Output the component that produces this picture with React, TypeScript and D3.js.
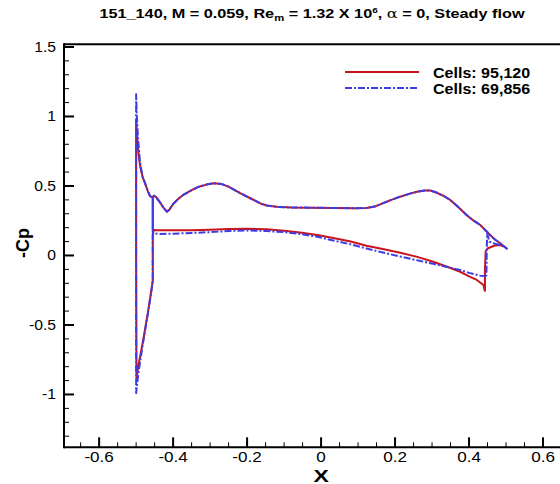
import React from "react";
import * as d3 from "d3";

// ---------- data ----------
const xTicksMajor = [-0.6, -0.4, -0.2, 0, 0.2, 0.4, 0.6];
const xTickLabels = ["-0.6", "-0.4", "-0.2", "0", "0.2", "0.4", "0.6"];
const yTicksMajor = [-1, -0.5, 0, 0.5, 1, 1.5];
const yTickLabels = ["-1", "-0.5", "0", "0.5", "1", "1.5"];
const seriesNames = ["Cells: 95,120", "Cells: 69,856"];

// upper surface (common to both grids), from the slat shoulder to the trailing edge tip
const upperSurface: [number, number][] = [
  [-0.452, 0.43], [-0.446, 0.42], [-0.435, 0.38], [-0.425, 0.34], [-0.417, 0.315], [-0.41, 0.33],
  [-0.4, 0.37], [-0.385, 0.41], [-0.37, 0.44], [-0.35, 0.47], [-0.33, 0.495], [-0.31, 0.51],
  [-0.29, 0.52], [-0.27, 0.515], [-0.25, 0.495], [-0.22, 0.45], [-0.19, 0.41], [-0.16, 0.37],
  [-0.147, 0.36], [-0.12, 0.35], [-0.08, 0.345], [-0.03, 0.344], [0.03, 0.342], [0.09, 0.34],
  [0.123, 0.342], [0.145, 0.352], [0.168, 0.377], [0.19, 0.4], [0.214, 0.423], [0.24, 0.445],
  [0.259, 0.458], [0.28, 0.468], [0.295, 0.468], [0.31, 0.455], [0.33, 0.43], [0.349, 0.4],
  [0.37, 0.35], [0.394, 0.29], [0.41, 0.255], [0.43, 0.22], [0.445, 0.18], [0.457, 0.147],
  [0.47, 0.115], [0.484, 0.088], [0.495, 0.065], [0.502, 0.05],
];

// red (95,120 cells)
const redLower: [number, number][] = [
  [0.443, -0.26], [0.439, -0.212], [0.421, -0.176], [0.4, -0.15], [0.376, -0.117], [0.35, -0.09],
  [0.303, -0.045], [0.26, -0.01], [0.214, 0.02], [0.17, 0.045], [0.123, 0.07], [0.08, 0.1],
  [0.033, 0.125], [-0.01, 0.148], [-0.057, 0.165], [-0.1, 0.178], [-0.147, 0.188], [-0.2, 0.192],
  [-0.25, 0.19], [-0.3, 0.185], [-0.35, 0.182], [-0.4, 0.181], [-0.44, 0.181], [-0.452, 0.183],
];
const redNose: [number, number][] = [
  [-0.455, 0.15], [-0.455, -0.18], [-0.46, -0.27], [-0.468, -0.41], [-0.481, -0.61],
  [-0.493, -0.78], [-0.499, -0.88], [-0.5, 0.0], [-0.5, 0.97], [-0.497, 0.85], [-0.493, 0.72],
  [-0.489, 0.64], [-0.482, 0.56], [-0.476, 0.52], [-0.468, 0.46], [-0.462, 0.425], [-0.456, 0.42],
];
const redTail: [number, number][] = [
  [0.495, 0.065], [0.484, 0.075], [0.47, 0.072], [0.461, 0.063], [0.45, 0.05], [0.445, 0.03],
  [0.443, -0.1], [0.443, -0.26],
];
const redStep: [number, number][] = [[-0.455, 0.42], [-0.455, 0.18]];

// blue (69,856 cells)
const blueLower: [number, number][] = [
  [0.447, -0.148], [0.43, -0.145], [0.4, -0.125], [0.376, -0.104], [0.35, -0.088], [0.303, -0.06],
  [0.26, -0.035], [0.214, -0.008], [0.17, 0.02], [0.123, 0.05], [0.08, 0.08], [0.033, 0.108],
  [-0.01, 0.135], [-0.057, 0.155], [-0.1, 0.168], [-0.147, 0.176], [-0.2, 0.18], [-0.25, 0.176],
  [-0.3, 0.168], [-0.35, 0.162], [-0.4, 0.157], [-0.44, 0.155], [-0.452, 0.16],
];
const blueNose: [number, number][] = [
  [-0.455, 0.15], [-0.455, -0.18], [-0.46, -0.28], [-0.469, -0.43], [-0.482, -0.64],
  [-0.494, -0.85], [-0.5, -0.99], [-0.5, 0.0], [-0.5, 1.16], [-0.498, 1.0], [-0.495, 0.85],
  [-0.49, 0.68], [-0.483, 0.57], [-0.476, 0.52], [-0.468, 0.46], [-0.462, 0.425], [-0.456, 0.42],
];
const blueTail: [number, number][] = [
  [0.49, 0.07], [0.47, 0.085], [0.455, 0.1], [0.449, 0.16], [0.448, 0.05], [0.447, -0.148],
];
const blueStep: [number, number][] = [[-0.455, 0.42], [-0.455, 0.16]];

const RED = "#c8141e";
const BLUE = "#3c3ce6";
const FONT = "Arial, 'Liberation Sans', Helvetica, sans-serif";

function SText(props: {
  x: number;
  y: number;
  sx?: number;
  anchor?: "start" | "middle" | "end";
  size: number;
  bold?: boolean;
  children: React.ReactNode;
}) {
  const { x, y, sx = 1.18, anchor = "start", size, bold, children } = props;
  return (
    <text
      transform={`translate(${x},${y}) scale(${sx},1)`}
      textAnchor={anchor}
      fontSize={size}
      fontWeight={bold ? "bold" : "normal"}
      fill="#000"
    >
      {children}
    </text>
  );
}

export default function App() {
  const W = 560;
  const H = 484;
  const x = d3.scaleLinear().domain([-0.695, 0.7]).range([64, 580]);
  const y = d3.scaleLinear().domain([-1.38, 1.52]).range([447.3, 44.2]);
  const line = d3
    .line<[number, number]>()
    .x((d) => x(d[0]))
    .y((d) => y(d[1]));

  const redMain = [...redLower, ...redNose, ...upperSurface, ...redTail];
  const blueMain = [...blueLower, ...blueNose, ...upperSurface, ...blueTail];

  const xMinor = d3.range(-0.65, 0.7, 0.05).map((v) => +v.toFixed(2));
  const yMinor = d3.range(-1.3, 1.51, 0.1).map((v) => +v.toFixed(2));

  const left = x.range()[0];
  const bottom = y(-1.38);
  const top = y(1.52);

  return (
    <svg
      width={W}
      height={H}
      style={{ position: "absolute", left: 0, top: 0, background: "#fff" }}
      fontFamily={FONT}
    >
      <rect width={W} height={H} fill="#fff" />
      {/* title */}
      <SText x={312} y={18} anchor="middle" size={13} bold sx={1.25}>
        <tspan>151_140, M = 0.059, Re</tspan>
        <tspan fontSize={9} dy={3}>m</tspan>
        <tspan dy={-3}> = 1.32 X 10</tspan>
        <tspan fontSize={8} dy={-5}>6</tspan>
        <tspan dy={5}>, </tspan>
        <tspan fontWeight="normal" fontFamily="'DejaVu Serif', serif">α</tspan>
        <tspan> = 0, Steady flow</tspan>
      </SText>

      {/* curves */}
      <g fill="none" strokeLinejoin="round">
        <path d={line(redMain) ?? ""} stroke={RED} strokeWidth={2} />
        <path d={line(redStep) ?? ""} stroke={RED} strokeWidth={2} />
        <path d={line(blueMain) ?? ""} stroke={BLUE} strokeWidth={2} strokeDasharray="7,2,2,2" />
        <path d={line(blueStep) ?? ""} stroke={BLUE} strokeWidth={2} />
      </g>

      {/* axes */}
      <g stroke="#000">
        <line x1={left} x2={W} y1={top} y2={top} strokeWidth={2} />
        <line x1={left} x2={W} y1={bottom} y2={bottom} strokeWidth={2} />
        <line x1={left} x2={left} y1={top - 1} y2={bottom + 1} strokeWidth={2} />
        {xMinor.map((v) => (
          <line key={"xm" + v} x1={x(v)} x2={x(v)} y1={bottom} y2={bottom - 5} strokeWidth={1} />
        ))}
        {xTicksMajor.map((v) => (
          <line key={"xM" + v} x1={x(v)} x2={x(v)} y1={bottom} y2={bottom - 10} strokeWidth={2} />
        ))}
        {yMinor.map((v) => (
          <line key={"ym" + v} x1={left} x2={left + 5} y1={y(v)} y2={y(v)} strokeWidth={1} />
        ))}
        {yTicksMajor.map((v) => (
          <line key={"yM" + v} x1={left} x2={left + 10} y1={y(v)} y2={y(v)} strokeWidth={2} />
        ))}
      </g>
      {xTicksMajor.map((v, i) => (
        <SText key={"xl" + v} x={x(v)} y={bottom + 15} anchor="middle" size={14.5}>
          {xTickLabels[i]}
        </SText>
      ))}
      {yTicksMajor.map((v, i) => (
        <SText key={"yl" + v} x={56} y={y(v) + 5} anchor="end" size={14.5} sx={1.08}>
          {yTickLabels[i]}
        </SText>
      ))}
      <SText x={x(0)} y={482} anchor="middle" size={17} bold sx={1.35}>
        X
      </SText>
      <text
        transform={`translate(29,${243}) rotate(-90)`}
        textAnchor="middle"
        fontSize={18}
        fontWeight="bold"
      >
        -Cp
      </text>

      {/* legend */}
      <line x1={345} x2={419} y1={72} y2={72} stroke={RED} strokeWidth={2} />
      <line x1={345} x2={419} y1={88} y2={88} stroke={BLUE} strokeWidth={2} strokeDasharray="7,2,2,2" />
      <SText x={433} y={78} size={15} bold sx={1.07}>
        {seriesNames[0]}
      </SText>
      <SText x={433} y={94} size={15} bold sx={1.07}>
        {seriesNames[1]}
      </SText>
    </svg>
  );
}
